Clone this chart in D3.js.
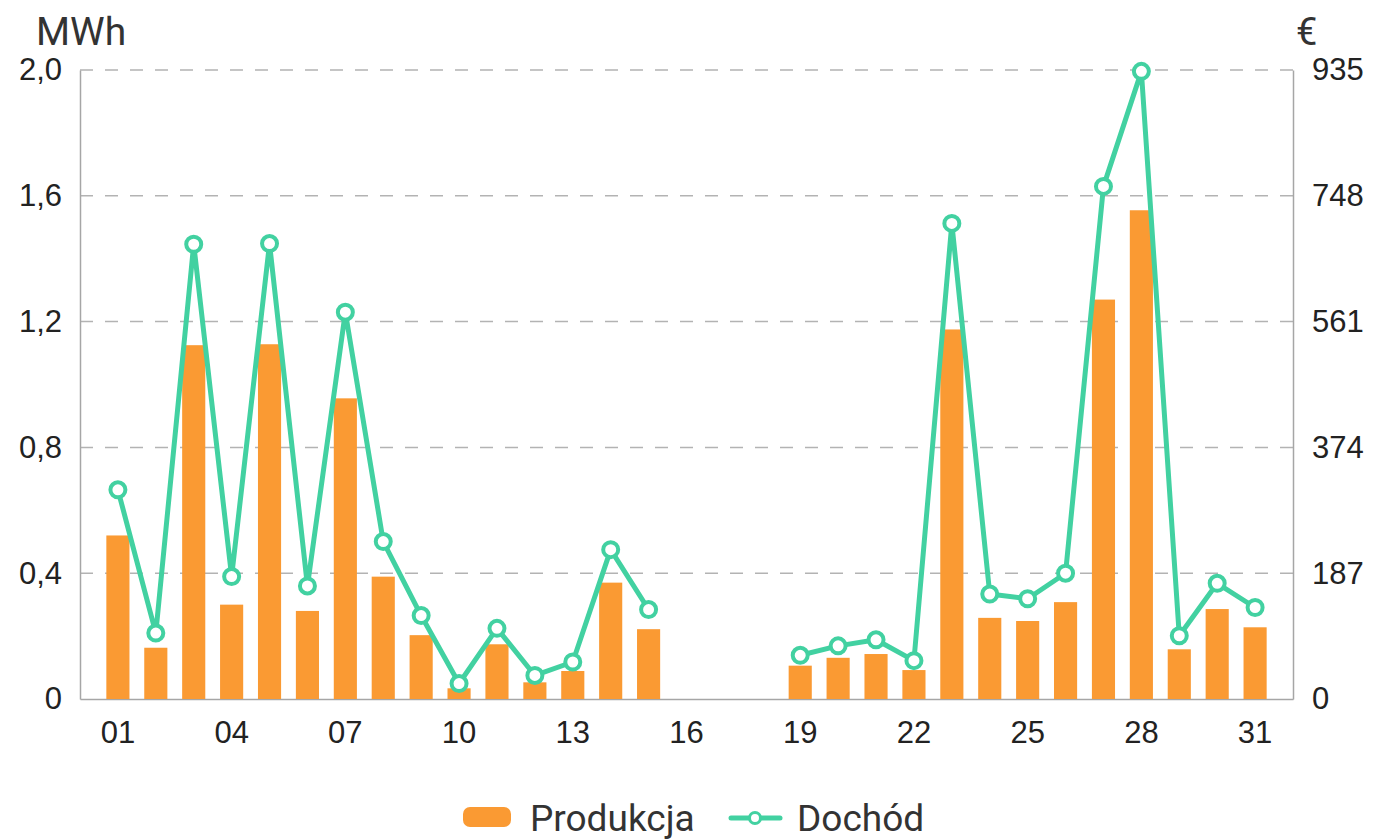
<!DOCTYPE html>
<html>
<head>
<meta charset="utf-8">
<script src="https://cdn.jsdelivr.net/npm/d3@7"></script>
<style>
  body { margin: 0; background: #fff; }
  svg { display: block; font-family: Roboto, "Noto Sans", sans-serif; }
</style>
</head>
<body>
<div id="chart"></div>
<script>
const days = ["01","02","03","04","05","06","07","08","09","10","11","12","13","14","15","16",
  "17","18","19","20","21","22","23","24","25","26","27","28","29","30","31"];
const dayLabels = ["01","04","07","10","13","16","19","22","25","28","31"];
// MWh, null = no data
const production = [0.52, 0.163, 1.125, 0.30, 1.128, 0.28, 0.956, 0.389, 0.203, 0.034, 0.174, 0.053,
  0.089, 0.37, 0.222, null, null, null, 0.106, 0.131, 0.143, 0.092, 1.175, 0.258, 0.248, 0.308,
  1.27, 1.554, 0.158, 0.286, 0.228];
// EUR
const income = [311, 98, 676, 182, 677, 168, 575, 234, 124, 23, 105, 35, 55, 222, 133, null, null, null,
  65, 79, 88, 57, 707, 156, 149, 187, 762, 933, 94, 172, 136];
const leftTicks = [0, 0.4, 0.8, 1.2, 1.6, 2.0];
const rightTicks = [0, 187, 374, 561, 748, 935];

const width = 1376, height = 839;
const plotLeft = 80, plotRight = 1293, plotTop = 70, plotBottom = 699;
const barColor = "#fa9a33", lineColor = "#42d1a1";

const svg = d3.select("#chart").append("svg")
    .attr("width", width)
    .attr("height", height)

const x = d3.scaleBand()
    .domain(days)
    .range([plotLeft, plotRight])
    .paddingInner(0.39)
    .paddingOuter(0.695)
const yL = d3.scaleLinear().domain([0, 2]).range([plotBottom, plotTop])
const yR = d3.scaleLinear().domain([0, 935]).range([plotBottom, plotTop])

const fmt = v => v === 0 ? "0" : d3.format(".1f")(v).replace(".", ",");

// grid lines
svg.append("g")
    .selectAll("line")
    .data(leftTicks.slice(1))
    .enter()
    .append("line")
    .attr("x1", plotLeft).attr("x2", plotRight)
    .attr("y1", d => yL(d)).attr("y2", d => yL(d))
    .attr("stroke", "#b3b3b3")
    .attr("stroke-width", 1.5)
    .attr("stroke-dasharray", "13,12")

// left axis
const gL = svg.append("g")
    .attr("transform", `translate(${plotLeft},0)`)
    .call(d3.axisLeft(yL).tickValues(leftTicks).tickFormat(fmt).tickSize(0).tickPadding(18))
gL.select(".domain").attr("stroke", "#a6a6a6").attr("stroke-width", 1.5)
gL.selectAll("text").attr("font-size", 31).attr("fill", "#222")

// right axis
const gR = svg.append("g")
    .attr("transform", `translate(${plotRight},0)`)
    .call(d3.axisRight(yR).tickValues(rightTicks).tickSize(0).tickPadding(19))
gR.select(".domain").attr("stroke", "#a6a6a6").attr("stroke-width", 1.5)
gR.selectAll("text").attr("font-size", 31).attr("fill", "#222")

// bottom axis
const gB = svg.append("g")
    .attr("transform", `translate(0,${plotBottom})`)
    .call(d3.axisBottom(x).tickValues(dayLabels).tickSize(0).tickPadding(22))
gB.select(".domain").attr("stroke", "#a6a6a6").attr("stroke-width", 1.5)
gB.selectAll("text").attr("font-size", 31).attr("fill", "#222")

// unit labels
svg.append("text").attr("x", 36).attr("y", 45).attr("font-size", 39).attr("fill", "#333").text("MWh")
svg.append("text").attr("x", 1296).attr("y", 45).attr("font-size", 38).attr("fill", "#333").text("€")

// bars
const barData = days.map((d, i) => ({ day: d, v: production[i] })).filter(d => d.v !== null)
svg.append("g")
    .selectAll("rect")
    .data(barData)
    .enter()
    .append("rect")
    .attr("x", d => x(d.day))
    .attr("width", x.bandwidth())
    .attr("y", d => yL(d.v))
    .attr("height", d => plotBottom - yL(d.v))
    .attr("fill", barColor)

// line
const lineData = days.map((d, i) => ({ day: d, v: income[i] }))
const cx = d => x(d.day) + x.bandwidth() / 2
svg.append("path")
    .datum(lineData)
    .attr("fill", "none")
    .attr("stroke", lineColor)
    .attr("stroke-width", 5)
    .attr("stroke-linejoin", "round")
    .attr("d", d3.line().defined(d => d.v !== null).x(cx).y(d => yR(d.v)))

svg.append("g")
    .selectAll("circle")
    .data(lineData.filter(d => d.v !== null))
    .enter()
    .append("circle")
    .attr("cx", cx)
    .attr("cy", d => yR(d.v))
    .attr("r", 7.5)
    .attr("fill", "#fff")
    .attr("stroke", lineColor)
    .attr("stroke-width", 4)

// legend
const lg = svg.append("g")
lg.append("rect").attr("x", 463).attr("y", 807).attr("width", 48).attr("height", 20).attr("rx", 7)
    .attr("fill", barColor)
lg.append("text").attr("x", 530).attr("y", 831).attr("font-size", 37).attr("fill", "#333").text("Produkcja")
lg.append("line").attr("x1", 731).attr("x2", 780).attr("y1", 818).attr("y2", 818)
    .attr("stroke", lineColor).attr("stroke-width", 5).attr("stroke-linecap", "round")
lg.append("circle").attr("cx", 755).attr("cy", 818).attr("r", 5.5).attr("fill", "#fff")
    .attr("stroke", lineColor).attr("stroke-width", 3)
lg.append("text").attr("x", 797).attr("y", 831).attr("font-size", 37).attr("fill", "#333").text("Dochód")
</script>
</body>
</html>
